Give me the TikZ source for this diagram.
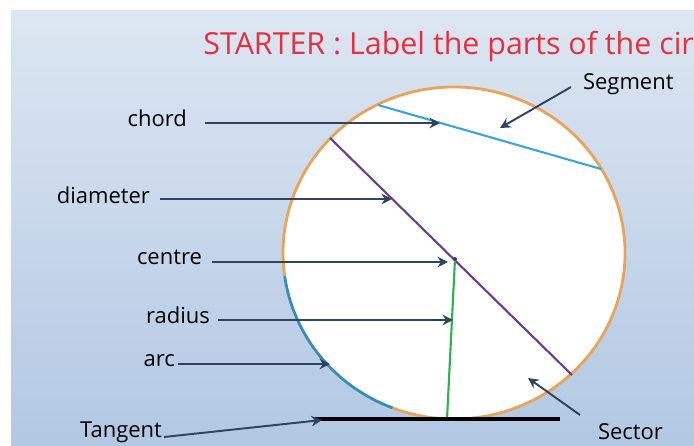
\documentclass[tikz,border=0pt]{standalone}
\usepackage{fontspec}
\setmainfont{Open Sans}
\usepackage{xcolor}
\usetikzlibrary{positioning,arrows.meta,calc}

\definecolor{slidetop}{HTML}{DDE6F2}
\definecolor{slidebot}{HTML}{B2C8E3}
\definecolor{titlered}{HTML}{E2323F}
\definecolor{rimorange}{HTML}{E9A35A}
\definecolor{pointblue}{HTML}{2F4460}
\definecolor{chordcyan}{HTML}{3AA6D2}
\definecolor{diampurple}{HTML}{6A3E8C}
\definecolor{radgreen}{HTML}{2DB34A}
\definecolor{arcteal}{HTML}{3B8DB0}

\begin{document}
\begin{tikzpicture}[
  x=0.02cm, y=-0.02cm,
  >={Stealth[length=6pt,width=6pt,inset=2pt]},
  lbl/.style={font=\fontsize{12.5}{14}\selectfont, text=black, inner sep=1pt},
  pointer/.style={->, draw=pointblue, line width=1.1pt},
  part/.style={line width=1.2pt},
]
% ---------- slide background ----------
\useasboundingbox (0,0) rectangle (694,446);
\fill[white] (0,0) rectangle (694,446);
\shade[top color=slidetop, bottom color=slidebot] (11,11) rectangle (694,446);
\node[anchor=base west, text=titlered, font=\fontsize{17.3}{20}\selectfont, inner sep=0pt] (title) at (203,55) {STARTER : Label the parts of the cir};

% ---------- the circle ----------
\coordinate (O) at (454,253);
\fill[white] (O) ellipse [x radius=171, y radius=166];
\draw[arcteal, line width=1.6pt] (O) ++(172:171 and 166) arc [start angle=172, end angle=111, x radius=171, y radius=166];
\draw[rimorange, line width=1.6pt] (O) ++(111:171 and 166) arc [start angle=111, end angle=-188, x radius=171, y radius=166];

% points on the circle
\coordinate (chA) at (378,105);
\coordinate (chB) at (601,169);
\coordinate (diA) at (330,138);
\coordinate (diB) at (572,375);
\coordinate (ctr) at (455,259);
\coordinate (foot) at (447,419);
\coordinate (tgA) at (315,419);
\coordinate (tgB) at (560,419);

\draw[chordcyan, part] (chA) -- (chB);
\draw[diampurple, part] (diA) -- (diB);
\draw[radgreen, part] (ctr) -- (foot);
\draw[black, line width=2pt] (tgA) -- (tgB);
\fill[pointblue] (ctr) circle [radius=2];

% ---------- arrow tips ----------
\coordinate (chordtip)  at (440,123);
\coordinate (segtip)    at (500,128);
\coordinate (diamtip)   at (392,199);
\coordinate (centtip)   at (448,262);
\coordinate (radtip)    at (453,320);
\coordinate (arctip)    at (330,364);
\coordinate (tantip)    at (322,420);
\coordinate (sectip)    at (528,378);

% ---------- labels ----------
\node[lbl, anchor=east] (chord)    at (189,118) {chord};
\node[lbl, anchor=west] (segment)  at (581,84)  {Segment};
\node[lbl, anchor=east] (diameter) at (152,195) {diameter};
\node[lbl, anchor=east] (centre)   at (204,257) {centre};
\node[lbl, anchor=east] (radius)   at (212,315) {radius};
\node[lbl, anchor=east] (arc)      at (177,361) {arc};
\node[lbl, anchor=east] (tangent)  at (164,432) {Tangent};
\node[lbl, anchor=west] (sector)   at (596,432) {Sector};

\draw[pointer] ($(chord.east |- chordtip)+(16,0)$) -- (chordtip);
\draw[pointer] ($(segment.west)+(-10,3)$) -- (segtip);
\draw[pointer] ($(diameter.east |- diamtip)+(8,0)$) -- (diamtip);
\draw[pointer] ($(centre.east |- centtip)+(8,0)$) -- (centtip);
\draw[pointer] ($(radius.east |- radtip)+(6,0)$) -- (radtip);
\draw[pointer] ($(arc.east |- arctip)+(1,0)$) -- (arctip);
\draw[pointer] ($(tangent.east)+(0,5)$) -- (tantip);
\draw[pointer] ($(sector.west)+(-16,-17)$) -- (sectip);
\end{tikzpicture}
\end{document}
